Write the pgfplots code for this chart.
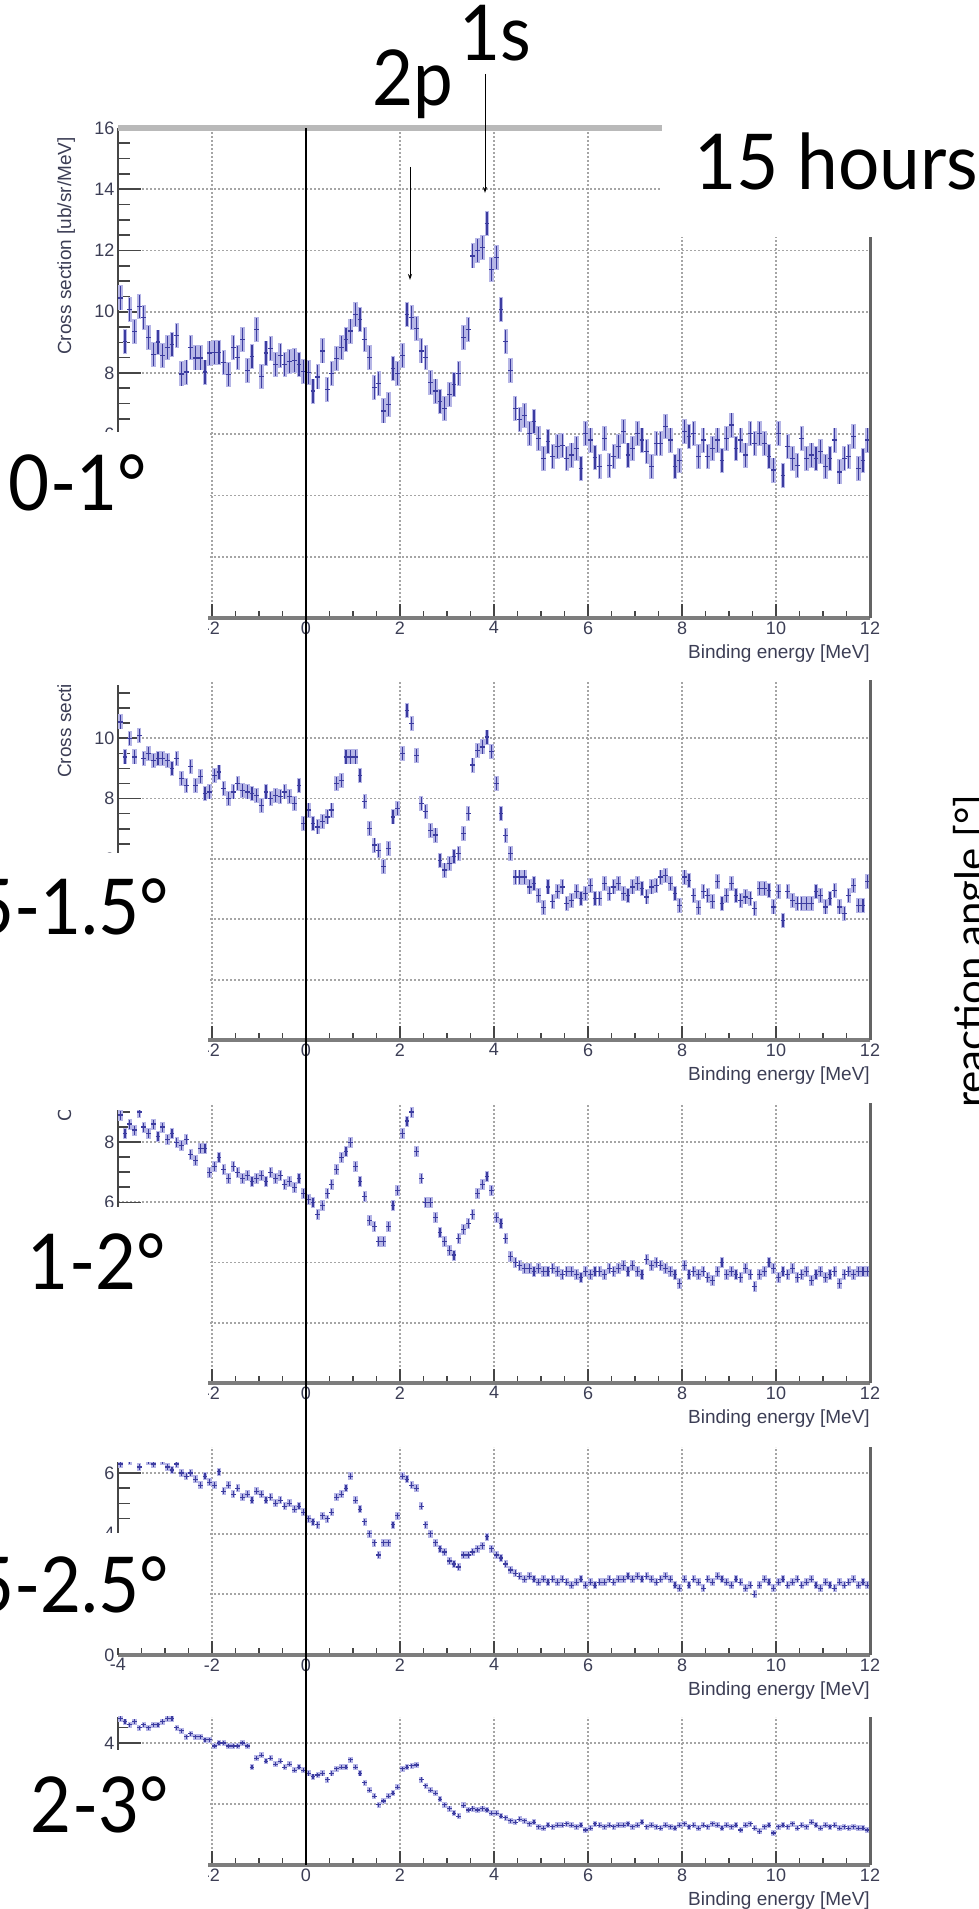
\documentclass[border=0pt]{standalone}
\usepackage{pgfplots}
\pgfplotsset{compat=1.18}
\usepackage{pgfplotstable}
\usepackage{fontspec}
\usetikzlibrary{arrows.meta}
\setmainfont{Liberation Sans}
\newfontfamily\rootfont{Liberation Sans}
\newfontfamily\slidefont{Lato}
\definecolor{ptdark}{RGB}{60,60,160}
\definecolor{ptlight}{RGB}{182,182,230}
\definecolor{gridc}{RGB}{165,165,165}
\definecolor{axc}{RGB}{125,125,125}
\definecolor{tickc}{RGB}{70,70,70}
\definecolor{lblc}{RGB}{60,62,85}

\pgfdeclareplotmark{ebar}{%
  \pgfpathmoveto{\pgfqpoint{0pt}{-\pgfplotmarksize}}%
  \pgfpathlineto{\pgfqpoint{0pt}{\pgfplotmarksize}}%
  \pgfpathmoveto{\pgfqpoint{-2.4pt}{0pt}}%
  \pgfpathlineto{\pgfqpoint{2.4pt}{0pt}}%
  \pgfusepathqstroke}

\pgfplotstableread{
x a b c d e
-3.95 10.45 10.54 8.9 6.3 4.8
-3.85 9.03 9.38 8.3 6.5 4.7
-3.75 10.07 9.99 8.6 6.4 4.6
-3.65 9.36 9.38 8.4 6.6 4.7
-3.55 10.18 10.10 9.0 6.2 4.5
-3.45 9.80 9.33 8.5 6.5 4.6
-3.35 9.16 9.49 8.3 6.4 4.5
-3.25 8.60 9.27 8.6 6.3 4.6
-3.15 9.01 9.33 8.2 6.6 4.6
-3.05 8.58 9.33 8.5 6.4 4.7
-2.95 8.82 9.27 8.1 6.2 4.8
-2.85 8.92 9.00 8.3 6.1 4.8
-2.75 9.23 9.33 8.0 6.3 4.5
-2.65 7.97 8.66 7.9 6.0 4.4
-2.55 8.03 8.44 8.1 5.9 4.2
-2.45 8.82 9.05 7.6 6.0 4.3
-2.35 8.49 8.44 7.4 5.8 4.2
-2.25 8.49 8.72 7.8 5.6 4.2
-2.15 8.03 8.17 7.8 5.9 4.1
-2.05 8.65 8.22 7.0 5.7 4.1
-1.95 8.68 8.77 7.2 5.6 3.9
-1.85 8.68 8.88 7.5 6.05 4.0
-1.75 8.33 8.33 7.1 5.4 4.0
-1.65 7.94 8.00 6.8 5.6 3.9
-1.55 8.82 8.22 7.2 5.3 3.9
-1.45 8.51 8.50 7.0 5.5 3.9
-1.35 9.09 8.28 6.8 5.2 4.0
-1.25 8.07 8.22 6.9 5.3 3.9
-1.15 8.54 8.17 6.7 5.1 3.2
-1.05 9.41 8.11 6.8 5.4 3.5
-0.95 7.89 7.78 6.9 5.3 3.6
-0.85 8.65 8.22 6.7 5.1 3.4
-0.75 8.79 8.00 7.0 5.2 3.5
-0.65 8.29 8.11 6.8 5.0 3.3
-0.55 8.58 8.06 6.9 5.1 3.4
-0.45 8.29 8.22 6.6 4.9 3.2
-0.35 8.38 8.06 6.7 5.0 3.3
-0.25 8.40 7.84 6.5 4.8 3.1
-0.15 8.29 8.44 6.8 4.9 3.2
-0.05 8.05 7.17 6.3 4.7 3.1
0.05 8.01 7.62 6.1 4.5 3.0
0.15 7.41 7.17 6.0 4.4 2.9
0.25 7.87 7.06 5.6 4.3 2.95
0.35 8.72 7.23 5.9 4.6 3.0
0.45 7.47 7.39 6.3 4.5 2.8
0.55 7.98 7.62 6.6 4.7 3.0
0.65 8.48 8.50 7.1 5.2 3.15
0.75 8.83 8.61 7.5 5.3 3.2
0.85 9.10 9.38 7.7 5.5 3.2
0.95 9.37 9.38 8.0 5.9 3.45
1.05 9.92 9.38 7.2 5.1 3.2
1.15 9.75 8.77 6.7 4.8 3.0
1.25 9.10 7.89 6.2 4.4 2.7
1.35 8.50 7.01 5.4 4.0 2.45
1.45 7.52 6.46 5.2 3.7 2.25
1.55 7.65 6.29 4.7 3.3 1.97
1.65 6.76 5.74 4.7 3.7 2.1
1.75 6.98 6.35 5.2 3.7 2.25
1.85 8.15 7.39 5.9 4.3 2.35
1.95 7.98 7.67 6.4 4.6 2.55
2.05 8.56 9.49 8.3 5.9 3.15
2.15 9.92 10.93 8.7 5.8 3.2
2.25 9.81 10.49 9.0 5.6 3.25
2.35 9.46 9.44 7.7 5.5 3.28
2.45 8.72 7.84 6.8 4.9 2.8
2.55 8.50 7.56 6.0 4.3 2.6
2.65 7.68 6.95 6.0 4.0 2.45
2.75 7.41 6.79 5.5 3.7 2.35
2.85 7.08 5.96 5.0 3.5 2.15
2.95 6.84 5.63 4.7 3.4 1.97
3.05 7.30 5.85 4.4 3.1 1.85
3.15 7.63 6.07 4.25 3.0 1.7
3.25 7.98 6.18 4.8 2.9 1.6
3.35 9.15 6.84 5.1 3.3 1.95
3.45 9.43 7.50 5.3 3.3 1.8
3.55 11.82 9.11 5.6 3.4 1.85
3.65 11.99 9.60 6.3 3.5 1.8
3.75 12.10 9.71 6.6 3.6 1.85
3.85 12.88 10.04 6.85 3.9 1.8
3.95 11.39 9.55 6.4 3.5 1.7
4.05 11.77 8.50 5.5 3.3 1.7
4.15 10.08 7.50 5.3 3.2 1.6
4.25 9.02 6.78 4.8 3.0 1.55
4.35 8.09 6.18 4.2 2.8 1.45
4.45 6.84 5.40 4.0 2.7 1.4
4.55 6.48 5.40 3.9 2.6 1.5
4.65 6.62 5.40 3.8 2.5 1.45
4.75 6.03 5.07 3.8 2.6 1.35
4.85 6.41 5.18 3.7 2.5 1.4
4.95 5.86 4.80 3.8 2.4 1.25
5.05 5.21 4.39 3.7 2.5 1.2
5.15 5.75 5.07 3.7 2.4 1.3
5.25 5.26 4.58 3.8 2.5 1.25
5.35 5.59 4.91 3.7 2.4 1.3
5.45 5.64 5.07 3.6 2.5 1.3
5.55 5.21 4.52 3.7 2.4 1.35
5.65 5.32 4.63 3.7 2.3 1.3
5.75 5.54 4.91 3.6 2.4 1.25
5.85 4.88 4.69 3.5 2.5 1.3
5.95 6.03 4.85 3.7 2.3 1.15
6.05 5.81 5.13 3.6 2.4 1.2
6.15 5.23 4.69 3.7 2.3 1.35
6.25 4.94 4.69 3.7 2.4 1.3
6.35 5.86 5.18 3.6 2.4 1.25
6.45 4.99 4.85 3.8 2.5 1.3
6.55 5.26 5.07 3.7 2.4 1.25
6.65 5.59 5.18 3.8 2.5 1.3
6.75 6.08 4.85 3.9 2.5 1.3
6.85 5.32 4.80 3.7 2.6 1.35
6.95 5.54 5.07 3.9 2.5 1.25
7.05 6.03 5.18 3.7 2.6 1.3
7.15 5.81 5.02 3.6 2.5 1.4
7.25 5.43 4.74 4.1 2.6 1.25
7.35 4.94 5.07 3.9 2.5 1.3
7.45 5.70 5.13 4.0 2.4 1.25
7.55 5.70 5.40 3.9 2.5 1.2
7.65 6.24 5.46 3.8 2.6 1.3
7.75 5.81 5.18 3.7 2.5 1.25
7.85 4.94 4.85 3.6 2.3 1.2
7.95 5.15 4.47 3.3 2.2 1.3
8.05 6.08 5.40 3.9 2.5 1.35
8.15 5.92 5.29 3.6 2.3 1.25
8.25 6.03 4.80 3.7 2.5 1.3
8.35 5.26 4.39 3.6 2.4 1.2
8.45 5.81 4.91 3.7 2.2 1.3
8.55 5.26 4.80 3.5 2.5 1.25
8.65 5.54 4.58 3.4 2.4 1.35
8.75 5.81 5.24 3.7 2.6 1.3
8.85 5.15 4.52 4.0 2.5 1.2
8.95 5.86 4.80 3.6 2.4 1.3
9.05 6.30 5.18 3.7 2.3 1.25
9.15 5.54 4.80 3.6 2.5 1.3
9.25 5.81 4.63 3.5 2.4 1.15
9.35 5.32 4.74 3.8 2.2 1.3
9.45 6.03 4.69 3.6 2.3 1.35
9.55 5.70 4.36 3.2 2.0 1.2
9.65 6.03 5.02 3.6 2.3 1.1
9.75 5.70 5.02 3.7 2.5 1.25
9.85 5.26 4.96 4.0 2.4 1.3
9.95 4.83 4.41 3.8 2.2 1.05
10.05 6.03 4.91 3.5 2.4 1.25
10.15 4.66 3.97 3.7 2.5 1.3
10.25 5.59 4.91 3.6 2.3 1.25
10.35 5.21 4.63 3.8 2.4 1.35
10.45 4.99 4.52 3.5 2.5 1.2
10.55 5.86 4.52 3.6 2.3 1.3
10.65 5.21 4.52 3.7 2.4 1.25
10.75 5.32 4.52 3.4 2.5 1.4
10.85 5.21 4.91 3.6 2.3 1.3
10.95 5.43 4.80 3.7 2.2 1.2
11.05 4.94 4.41 3.5 2.4 1.3
11.15 5.21 4.69 3.6 2.3 1.25
11.25 5.81 4.96 3.7 2.2 1.3
11.35 4.77 4.41 3.3 2.4 1.2
11.45 5.21 4.19 3.6 2.3 1.25
11.55 5.26 4.80 3.7 2.4 1.2
11.65 5.92 5.13 3.6 2.5 1.25
11.75 4.88 4.47 3.7 2.3 1.2
11.85 5.15 4.47 3.7 2.4 1.2
11.95 5.81 5.24 3.7 2.3 1.15
}\data

\pgfplotsset{
  panel/.style={
    scale only axis, width=752pt,
    xmin=-4, xmax=12, ymin=0,
    clip mode=individual,
    axis x line*=bottom, axis y line*=left,
    x axis line style={line width=3.5pt, color=axc},
    y axis line style={line width=2pt, color=tickc},
    xtick={-4,-2,...,12}, minor x tick num=3,
    ytick={0,2,...,16}, minor y tick num=3,
    tick align=inside,
    tick style={line width=1.6pt, color=tickc},
    x tick style={/pgfplots/major tick length=14pt, /pgfplots/minor tick length=7pt},
    y tick style={/pgfplots/major tick length=23pt, /pgfplots/minor tick length=12pt},
    grid=major,
    major grid style={gridc, line width=1.8pt, dash pattern=on 2pt off 2pt},
    tick label style={font=\rootfont\fontsize{18}{18}\selectfont, text=lblc},
    /pgf/number format/assume math mode=true,
    anchor=south west,
  },
  errlight/.style={only marks, mark=|, mark size=#1, color=ptlight, mark options={line width=4.5pt}},
  errdark/.style={only marks, mark=ebar, mark size=#1, color=ptdark, mark options={line width=1.2pt}},
}
\newcommand{\xlab}{\node[anchor=base east, font=\rootfont\fontsize{19}{19}\selectfont, text=lblc, yshift=-41pt, inner sep=0] at (rel axis cs:1,0) {Binding energy [MeV]};
\draw[axc!80!black, line width=3pt] (rel axis cs:1,0) -- (rel axis cs:1,1);}

\begin{document}
\begin{tikzpicture}
\useasboundingbox (0pt,0pt) rectangle (979pt,1909pt);
\clip (0pt,0pt) rectangle (979pt,1909pt);

% panel 1 : 0-1 deg
\begin{axis}[panel, at={(118pt,1291pt)}, height=490pt, ymax=16]
\addplot[errlight=12.5pt] table[x=x,y=a]{\data};
\addplot[errdark=11.6pt] table[x=x,y=a]{\data};
\xlab
\end{axis}
% panel 2 : 0.5-1.5 deg
\begin{axis}[panel, at={(118pt,869pt)}, height=360pt, ymax=11.93]
\addplot[errlight=7.5pt] table[x=x,y=b]{\data};
\addplot[errdark=6.6pt] table[x=x,y=b]{\data};
\xlab
\end{axis}
% panel 3 : 1-2 deg
\begin{axis}[panel, at={(118pt,526pt)}, height=280pt, ymax=9.3]
\addplot[errlight=5.5pt] table[x=x,y=c]{\data};
\addplot[errdark=4.5pt] table[x=x,y=c]{\data};
\xlab
\end{axis}
% panel 4 : 1.5-2.5 deg
\begin{axis}[panel, at={(118pt,254pt)}, height=208pt, ymax=6.86]
\addplot[errlight=4pt] table[x=x,y=d]{\data};
\addplot[errdark=3pt] table[x=x,y=d]{\data};
\xlab
\end{axis}
% panel 5 : 2-3 deg
\begin{axis}[panel, at={(118pt,44pt)}, height=148pt, ymax=4.85]
\addplot[errlight=3pt] table[x=x,y=e]{\data};
\addplot[errdark=2.1pt] table[x=x,y=e]{\data};
\xlab
\end{axis}

\begin{scope}[x=1pt,y=1pt]
\node[rotate=90, anchor=base west, inner sep=0, font=\rootfont\fontsize{19}{19}\selectfont, text=lblc] at (71,1554) {Cross section [ub/sr/MeV]};
\node[rotate=90, anchor=base west, inner sep=0, font=\rootfont\fontsize{19}{19}\selectfont, text=lblc] at (71,1131) {Cross section [ub/sr/MeV]};
\node[rotate=90, anchor=base west, inner sep=0, font=\rootfont\fontsize{19}{19}\selectfont, text=lblc] at (71,787) {Cross section [ub/sr/MeV]};
\fill[white] (662,1672) rectangle (985,1915);
\fill[white] (-5,1224) rectangle (208,1477);
\fill[white] (-5,799) rectangle (208,1056);
\fill[white] (-5,447) rectangle (208,702);
\fill[white] (-5,261) rectangle (208,376);
\fill[white] (-5,-5) rectangle (208,159);
\draw[gray!55, line width=5.5pt] (118,1781) -- (662,1781);
\draw[black, line width=1.3pt] (306,1781) -- (306,44);
\draw[-{Stealth[length=6pt,width=4pt]}, line width=1pt] (410,1742) -- (410,1629);
\draw[-{Stealth[length=6pt,width=4pt]}, line width=1pt] (485,1835) -- (485,1716);
\begin{scope}[every node/.style={inner sep=0, font=\slidefont\fontsize{77}{80}\selectfont, xscale=0.92}]
\node[anchor=base west] at (459,1848) {1s};
\node[anchor=base west] at (372,1803) {2p};
\node[anchor=base west, xscale=1.03] at (694,1719) {15 hours};
\node[anchor=base east] at (147,1398) {0-1°};
\node[anchor=base east] at (169,974) {0.5-1.5°};
\node[anchor=base east] at (166,619) {1-2°};
\node[anchor=base east] at (169,296) {1.5-2.5°};
\node[anchor=base east] at (169,76) {2-3°};
\end{scope}
\node[rotate=90, anchor=base, inner sep=0, font=\slidefont\fontsize{42}{44}\selectfont] at (985,958) {reaction angle [°]};
\end{scope}
\end{tikzpicture}
\end{document}
